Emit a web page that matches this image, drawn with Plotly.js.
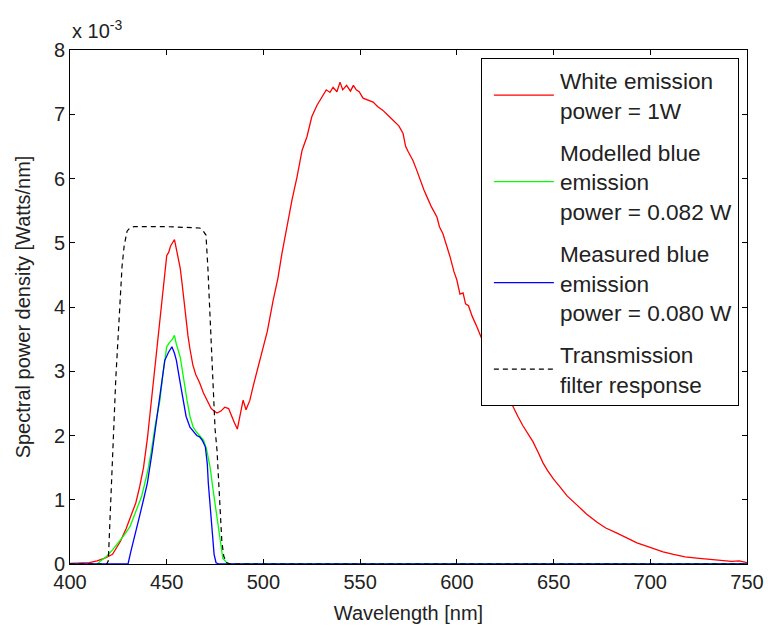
<!DOCTYPE html>
<html>
<head>
<meta charset="utf-8">
<script src="https://cdn.plot.ly/plotly-3.0.1.min.js"></script>
<style>
  html, body { margin: 0; padding: 0; background: #fff; }
  #chart { width: 768px; height: 631px; }
</style>
</head>
<body>
<div id="chart"></div>
<script>
// Spectral power density, values in units of 1e-3 W/nm

// White emission (1 W total)
const whiteWl = [400, 405, 410, 414, 418, 422, 426, 429, 431, 434, 436, 438, 440, 442, 444, 446, 448, 450, 451, 452, 453, 454, 455, 456, 457, 458, 459, 460, 461, 462, 463.5, 465, 467, 469, 471, 473, 474.5, 476, 478, 480, 482, 483.5, 485, 486.5, 488, 489.5, 491, 493, 494.8, 496.5, 498, 500, 502, 505, 507.5, 509.6, 512, 514.8, 517.4, 520, 522.5, 525, 527.7, 530.8, 532.5, 534.4, 536, 538, 539.6, 541, 543, 545, 546.5, 548, 549.5, 551.5, 554, 556.7, 559, 561.8, 564.5, 567, 570, 572.2, 573.5, 574.8, 577.3, 579, 581, 583, 584.6, 587, 589.7, 591, 592.8, 594.5, 596.5, 598.5, 600, 601.6, 603.2, 604.5, 606, 608, 610.4, 615, 620, 625, 629, 631.5, 634, 636.5, 639.4, 642, 644.6, 647, 650, 653.3, 657, 662, 667, 672.5, 677, 682.8, 688, 693.1, 699.9, 706.6, 712, 718, 724, 730, 736, 742, 746, 748, 750];
const whiteVal = [0.01, 0.01, 0.02, 0.05, 0.09, 0.15, 0.35, 0.55, 0.7, 0.95, 1.2, 1.5, 1.95, 2.5, 3.05, 3.6, 4.2, 4.8, 4.85, 4.95, 5.0, 5.05, 4.9, 4.75, 4.6, 4.35, 4.05, 3.8, 3.55, 3.35, 3.1, 2.95, 2.82, 2.66, 2.55, 2.42, 2.38, 2.35, 2.38, 2.44, 2.42, 2.3, 2.2, 2.1, 2.3, 2.55, 2.4, 2.55, 2.78, 2.98, 3.17, 3.4, 3.62, 4.1, 4.45, 4.84, 5.25, 5.67, 6.03, 6.44, 6.65, 6.96, 7.14, 7.3, 7.38, 7.34, 7.42, 7.35, 7.5, 7.38, 7.45, 7.36, 7.45, 7.38, 7.35, 7.25, 7.22, 7.19, 7.12, 7.06, 6.98, 6.91, 6.82, 6.7, 6.5, 6.42, 6.28, 6.15, 5.98, 5.82, 5.71, 5.55, 5.4, 5.25, 5.14, 4.98, 4.78, 4.55, 4.42, 4.2, 4.22, 4.05, 4.02, 3.85, 3.69, 3.35, 3.0, 2.7, 2.44, 2.3, 2.16, 2.04, 1.9, 1.74, 1.57, 1.45, 1.32, 1.2, 1.06, 0.92, 0.78, 0.65, 0.56, 0.48, 0.4, 0.33, 0.26, 0.19, 0.15, 0.11, 0.09, 0.07, 0.06, 0.04, 0.05, 0.03, 0.02];

// Modelled blue emission (0.082 W)
const modelWl = [400, 414, 416, 419, 422, 425, 428, 431, 434, 437, 440, 442, 444, 446.5, 448, 450, 451.5, 453, 454, 455, 457, 458.5, 460.5, 462, 463.7, 465.5, 467, 469, 470.5, 472.4, 474, 476, 477.5, 479, 481, 483, 750];
const modelVal = [0, 0, 0.05, 0.12, 0.22, 0.33, 0.45, 0.58, 0.8, 1.05, 1.42, 1.75, 2.15, 2.55, 2.95, 3.38, 3.45, 3.5, 3.56, 3.42, 3.22, 2.9, 2.55, 2.3, 2.13, 2.05, 2.0, 1.93, 1.8, 1.51, 1.15, 0.73, 0.4, 0.09, 0.02, 0, 0];

// Measured blue emission (0.080 W)
const measWl = [400, 430, 431.5, 433.6, 436, 438, 440, 442.5, 445, 447, 449, 451, 452.7, 454, 455, 456.5, 458.4, 460, 462, 464, 465.5, 467, 468.5, 470, 471, 471.5, 472.5, 473.5, 474.5, 475.5, 477, 750];
const measVal = [0, 0, 0.2, 0.48, 0.75, 1.0, 1.26, 1.75, 2.29, 2.75, 3.17, 3.3, 3.38, 3.28, 3.17, 2.9, 2.55, 2.3, 2.13, 2.05, 2.0, 1.98, 1.92, 1.82, 1.55, 1.26, 0.85, 0.48, 0.15, 0.02, 0, 0];

// Transmission filter response (scaled)
const filterWl = [400, 419, 419.8, 421, 422.3, 423.7, 425, 426, 426.9, 428, 429.5, 431, 433, 450, 465, 467, 468.5, 470.3, 471.3, 472.4, 473.2, 474, 475, 476, 476.8, 477.6, 478.5, 479.5, 481, 483, 750];
const filterVal = [0, 0, 0.05, 0.9, 2.04, 2.9, 3.6, 4.2, 4.63, 4.95, 5.18, 5.23, 5.25, 5.25, 5.24, 5.23, 5.2, 5.12, 4.6, 3.85, 3.2, 2.55, 2.1, 1.77, 1.25, 0.73, 0.35, 0.12, 0.02, 0, 0];

const seriesNames = [
  'White emission<br>power = 1W',
  'Modelled blue<br>emission<br>power = 0.082 W',
  'Measured blue<br>emission<br>power = 0.080 W',
  'Transmission<br>filter response'
];

const FONT = 'Arial, "Liberation Sans", sans-serif';

const traces = [
  { x: whiteWl, y: whiteVal, name: seriesNames[0], legendgroup: 'a',
    mode: 'lines', line: { color: '#ff0000', width: 1.3 } },
  { x: modelWl, y: modelVal, name: seriesNames[1], legendgroup: 'b',
    mode: 'lines', line: { color: '#00ff00', width: 1.3 } },
  { x: measWl, y: measVal, name: seriesNames[2], legendgroup: 'c',
    mode: 'lines', line: { color: '#0000ff', width: 1.3 } },
  { x: filterWl, y: filterVal, name: seriesNames[3], legendgroup: 'd',
    mode: 'lines', line: { color: '#000000', width: 1.2, dash: '5px,4px' } }
];

const axisCommon = {
  showline: true, linecolor: '#000', linewidth: 1, mirror: 'ticks',
  ticks: 'inside', ticklen: 5, tickcolor: '#000', tickwidth: 1,
  showgrid: false, zeroline: false,
  tickfont: { family: FONT, size: 20, color: '#222' }
};

const layout = {
  width: 768, height: 631,
  margin: { l: 70, r: 21, t: 50, b: 67 },
  paper_bgcolor: '#fff', plot_bgcolor: '#fff',
  showlegend: true,
  xaxis: Object.assign({}, axisCommon, {
    range: [400, 750], dtick: 50, tick0: 400,
    title: { text: 'Wavelength [nm]', font: { family: FONT, size: 20, color: '#222' }, standoff: 13 }
  }),
  yaxis: Object.assign({}, axisCommon, {
    range: [0, 8], dtick: 1, tick0: 0,
    title: { text: 'Spectral power density [Watts/nm]', font: { family: FONT, size: 20, color: '#222' }, standoff: 17 }
  }),
  legend: {
    x: 0.988, xanchor: 'right', y: 0.984, yanchor: 'top',
    bgcolor: '#fff', bordercolor: '#000', borderwidth: 1,
    font: { family: FONT, size: 22.6, color: '#222' },
    itemwidth: 68, tracegroupgap: 10, traceorder: 'grouped'
  },
  annotations: [{
    xref: 'paper', yref: 'paper', x: 0, y: 1.012,
    xanchor: 'left', yanchor: 'bottom', showarrow: false,
    text: 'x 10<sup>-3</sup>',
    font: { family: FONT, size: 20, color: '#222' }
  }]
};

Plotly.newPlot('chart', traces, layout, { staticPlot: true, displayModeBar: false }).then(function (gd) {
  // lengthen the legend line samples
  gd.querySelectorAll('.legendlines path').forEach(function (p) {
    p.setAttribute('d', 'M12,0h60');
  });
});
</script>
</body>
</html>
